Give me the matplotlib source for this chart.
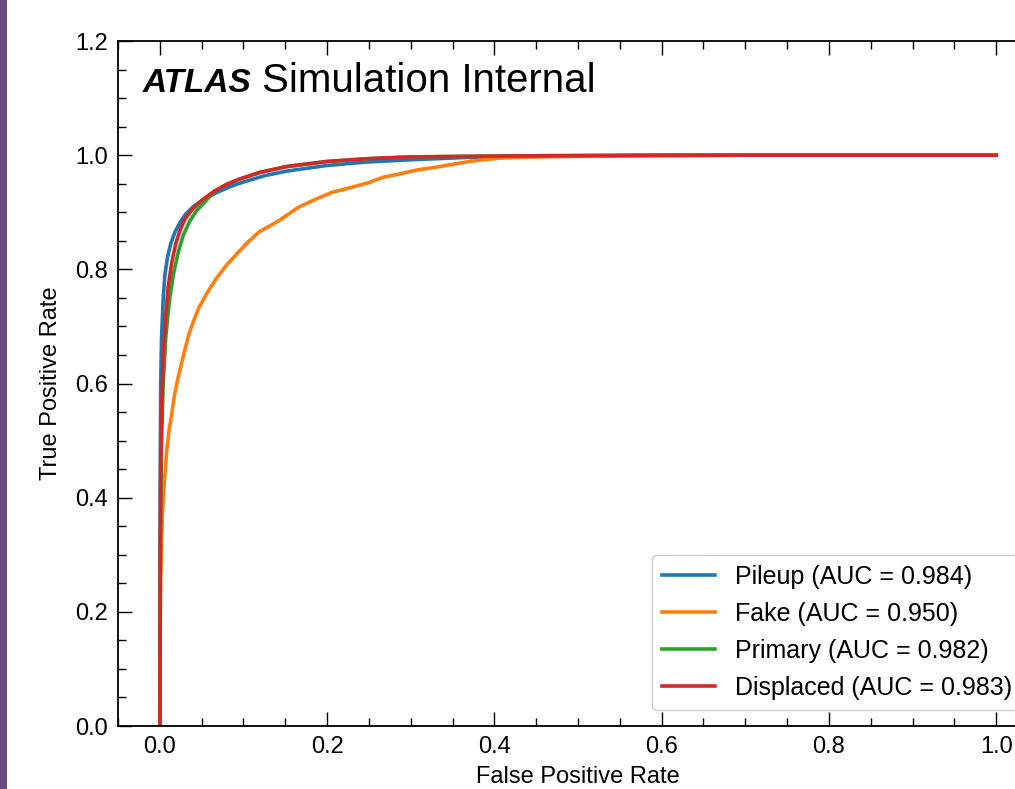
import matplotlib

matplotlib.use("Agg")
import matplotlib.pyplot as plt  # noqa: E402
from matplotlib.patches import Rectangle  # noqa: E402
from matplotlib.ticker import MultipleLocator  # noqa: E402

# ROC points (fpr, tpr per class)
pileup_fpr = [0.0, 0.0003, 0.001, 0.002, 0.004, 0.006, 0.009, 0.013, 0.018, 0.024,
              0.031, 0.04, 0.055, 0.07, 0.086, 0.1, 0.125, 0.151, 0.2, 0.247,
              0.3, 0.366, 0.45, 0.55, 0.7, 1.0]
pileup_tpr = [0.0, 0.40, 0.60, 0.68, 0.75, 0.79, 0.82, 0.845, 0.865, 0.882,
              0.897, 0.91, 0.925, 0.936, 0.946, 0.953, 0.964, 0.972, 0.982, 0.988,
              0.992, 0.996, 0.998, 0.999, 1.0, 1.0]

fake_fpr = [0.0, 0.0005, 0.001, 0.003, 0.005, 0.008, 0.011, 0.014, 0.017, 0.021,
            0.025, 0.030, 0.035, 0.041, 0.047, 0.057, 0.067, 0.080, 0.095, 0.107,
            0.119, 0.130, 0.143, 0.155, 0.166, 0.185, 0.206, 0.230, 0.250, 0.266,
            0.286, 0.307, 0.330, 0.346, 0.374, 0.407, 0.450, 0.500, 0.550, 0.700, 1.0]
fake_tpr = [0.0, 0.20, 0.26, 0.37, 0.42, 0.48, 0.518, 0.545, 0.576, 0.605,
            0.630, 0.660, 0.688, 0.712, 0.734, 0.760, 0.783, 0.808, 0.832, 0.850,
            0.866, 0.875, 0.886, 0.898, 0.909, 0.922, 0.935, 0.944, 0.952, 0.961,
            0.967, 0.974, 0.979, 0.983, 0.990, 0.995, 0.997, 0.998, 0.999, 1.0, 1.0]

primary_fpr = [0.0, 0.0005, 0.002, 0.004, 0.007, 0.011, 0.016, 0.022, 0.028, 0.036,
               0.044, 0.055, 0.065, 0.08, 0.095, 0.12, 0.151, 0.2, 0.25, 0.3,
               0.37, 0.45, 0.6, 1.0]
primary_tpr = [0.0, 0.30, 0.50, 0.60, 0.68, 0.74, 0.79, 0.83, 0.86, 0.885,
               0.903, 0.920, 0.936, 0.949, 0.958, 0.970, 0.980, 0.989, 0.994, 0.997,
               0.998, 0.999, 1.0, 1.0]

displaced_fpr = [0.0, 0.0005, 0.001, 0.002, 0.004, 0.007, 0.010, 0.014, 0.019, 0.024,
                 0.030, 0.038, 0.050, 0.065, 0.08, 0.095, 0.12, 0.151, 0.2, 0.25,
                 0.3, 0.37, 0.45, 0.6, 1.0]
displaced_tpr = [0.0, 0.30, 0.45, 0.55, 0.65, 0.72, 0.77, 0.81, 0.845, 0.868,
                 0.888, 0.904, 0.921, 0.937, 0.949, 0.958, 0.970, 0.980, 0.989, 0.994,
                 0.997, 0.998, 0.999, 1.0, 1.0]

labels = ["Pileup", "Fake", "Primary", "Displaced"]
aucs = [0.984, 0.950, 0.982, 0.983]
colors = ["#1f77b4", "#ff7f0e", "#2ca02c", "#d62728"]

plt.rcParams.update({
    "font.family": "Liberation Sans",
    "font.size": 17,
    "xtick.direction": "in",
    "ytick.direction": "in",
    "xtick.top": True,
    "xtick.major.size": 10,
    "xtick.minor.size": 5.5,
    "ytick.major.size": 10,
    "ytick.minor.size": 5.5,
    "xtick.major.width": 1.0,
    "xtick.minor.width": 1.0,
    "ytick.major.width": 1.0,
    "ytick.minor.width": 1.0,
    "xtick.major.pad": 7,
    "ytick.major.pad": 7,
    "axes.linewidth": 1.3,
})

fig = plt.figure(figsize=(10.15, 7.89), dpi=100)
# the reference is a crop, so the axes run past the right edge of the figure
ax = fig.add_axes([0.1163, 0.0798, 0.9064, 0.8682])

curves = [(pileup_fpr, pileup_tpr), (fake_fpr, fake_tpr),
          (primary_fpr, primary_tpr), (displaced_fpr, displaced_tpr)]
for (fpr, tpr), name, auc, c in zip(curves, labels, aucs, colors):
    ax.plot(fpr, tpr, color=c, lw=2.6, label=f"{name} (AUC = {auc:.3f})")

ax.set_xlim(-0.05, 1.05)
ax.set_ylim(0.0, 1.2)
ax.xaxis.set_major_locator(MultipleLocator(0.2))
ax.xaxis.set_minor_locator(MultipleLocator(0.05))
ax.yaxis.set_major_locator(MultipleLocator(0.2))
ax.yaxis.set_minor_locator(MultipleLocator(0.05))
ax.xaxis.set_major_formatter(lambda v, _: f"{v:.1f}")
ax.yaxis.set_major_formatter(lambda v, _: f"{v:.1f}")
ax.set_xlabel("False Positive Rate", labelpad=6)
ax.set_ylabel("True Positive Rate", labelpad=10)

ax.text(0.027, 0.9255, "ATLAS", transform=ax.transAxes, fontsize=24,
        fontweight="bold", fontstyle="italic", va="baseline")
ax.text(0.157, 0.9255, "Simulation Internal", transform=ax.transAxes,
        fontsize=29, va="baseline")

ax.legend(loc="lower right", fontsize=18, handlelength=2.1, labelspacing=0.52,
          borderaxespad=0.65, frameon=True, fancybox=True, edgecolor="#cccccc",
          framealpha=1.0)

# purple slide edge on the left of the crop
fig.patches.append(Rectangle((0, 0), 7 / 1015, 1, transform=fig.transFigure,
                             facecolor="#684c84", edgecolor="none"))

fig.savefig("out.png", dpi=100)
